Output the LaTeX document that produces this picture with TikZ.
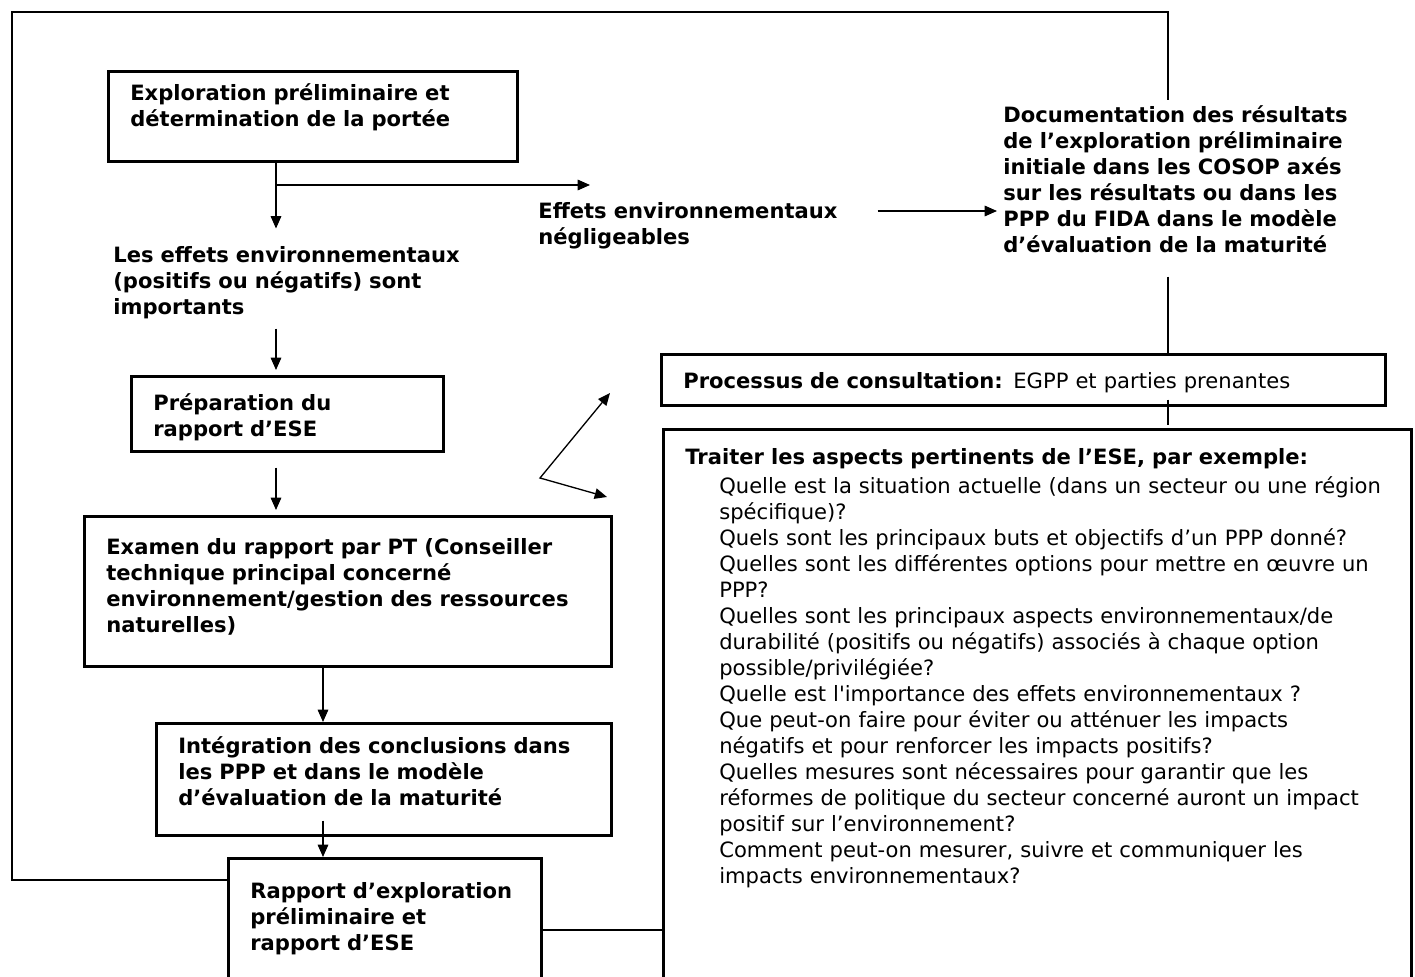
\documentclass[tikz,border=0pt]{standalone}
\usepackage{fontspec}
\setmainfont{DejaVu Sans}
\usetikzlibrary{arrows.meta, positioning}
\def\ind{\hspace*{0.68cm}}
\def\bfs{\fontsize{12}{14.8}\selectfont\bfseries}
\def\mds{\fontsize{12}{14.8}\selectfont\mdseries}
\tikzset{
  stage/.style={draw, line width=1.5pt, anchor=north west, align=left, inner xsep=0.44cm, inner ysep=0pt, font=\bfs},
  note/.style={anchor=north west, align=left, inner sep=0pt, text height=0.28cm, font=\bfs},
  flow/.style={line width=0.75pt, ->},
  link/.style={line width=0.75pt},
}
\begin{document}
\begin{tikzpicture}[x=0.02cm, y=-0.02cm, >={Triangle[length=7pt,width=6pt]}]
\useasboundingbox (0,0) rectangle (1415,976);
\coordinate (c1) at (276,0);
\coordinate (c2) at (323,0);
\coordinate (c3) at (1168,0);
\node[stage, text width=7.30cm, text height=0.59cm, text depth=1.21cm] (explo) at (107,70) {Exploration préliminaire et\\ détermination de la portée};
\node[note, text width=8cm] (sig) at (113,248.5) {Les effets environnementaux\\ (positifs ou négatifs) sont\\ importants};
\node[note, text width=6.4cm] (neg) at (538,204.5) {Effets environnementaux\\ négligeables};
\node[note, text width=8cm] (doc) at (1003,108.5) {Documentation des résultats\\ de l’exploration préliminaire\\ initiale dans les COSOP axés\\ sur les résultats ou dans les\\ PPP du FIDA dans le modèle\\ d’évaluation de la maturité};
\node[stage, text width=5.36cm, text height=0.69cm, text depth=0.81cm] (prep) at (130,375) {Préparation du\\ rapport d’ESE};
\node[stage, text width=9.66cm, text height=0.77cm, text depth=2.23cm] (exam) at (83,515) {Examen du rapport par PT (Conseiller\\ technique principal concerné\\ environnement/gestion des ressources\\ naturelles)};
\node[stage, text width=8.22cm, text height=0.61cm, text depth=1.63cm] (integ) at (155,722) {Intégration des conclusions dans\\ les PPP et dans le modèle\\ d’évaluation de la maturité};
\node[stage, text width=5.38cm, text height=0.81cm, text depth=2.2cm] (rapport) at (227,857) {Rapport d’exploration\\ préliminaire et\\ rapport d’ESE};
\node[stage, text width=13.60cm, text height=0.69cm, text depth=0.33cm] (consult) at (660,353) {Processus de consultation: {\mds EGPP et parties prenantes}};
\node[stage, text width=14.08cm, text height=0.71cm, text depth=12cm] (aspects) at (662,428) {Traiter les aspects pertinents de l’ESE, par exemple:\\[0.06cm]
\mds\ind Quelle est la situation actuelle (dans un secteur ou une région\\
\ind spécifique)?\\
\ind Quels sont les principaux buts et objectifs d’un PPP donné?\\
\ind Quelles sont les différentes options pour mettre en œuvre un\\
\ind PPP?\\
\ind Quelles sont les principaux aspects environnementaux/de\\
\ind durabilité (positifs ou négatifs) associés à chaque option\\
\ind possible/privilégiée?\\
\ind Quelle est l\textquotesingle importance des effets environnementaux ?\\
\ind Que peut-on faire pour éviter ou atténuer les impacts\\
\ind négatifs et pour renforcer les impacts positifs?\\
\ind Quelles mesures sont nécessaires pour garantir que les\\
\ind réformes de politique du secteur concerné auront un impact\\
\ind positif sur l’environnement?\\
\ind Comment peut-on mesurer, suivre et communiquer les\\
\ind impacts environnementaux?};
% split below the first box
\coordinate (split) at (276,185);
\coordinate (negtip) at (590,185);
\draw[link] (explo.south -| c1) -- (split);
\draw[flow] (split) -- (negtip);
\draw[flow, shorten >=0.4cm] (split) -- (sig.north -| c1);
\draw[flow, shorten <=0.18cm, shorten >=0.1cm] (sig.south -| c1) -- (prep.north -| c1);
\draw[flow, shorten <=0.3cm, shorten >=0.1cm] (prep.south -| c1) -- (exam.north -| c1);
\draw[flow] (exam.south -| c2) -- (integ.north -| c2);
\draw[flow, shorten <=-0.32cm] (integ.south -| c2) -- (rapport.north -| c2);
\coordinate (ay) at (0,211);
\draw[flow, shorten <=0.38cm, shorten >=0.12cm] (neg.east |- ay) -- (doc.west |- ay);
% outer loop back to the top
\coordinate (loop) at (0,880);
\coordinate (frame) at (12,12);
\draw[link, shorten >=0.16cm] (rapport.west |- loop) -| (frame) -| (doc.north -| c3);
\draw[link, shorten <=0.46cm] (doc.south -| c3) -- (consult.north -| c3);
\draw[link, shorten <=-0.14cm, shorten >=0.06cm] (consult.south -| c3) -- (aspects.north -| c3);
\coordinate (mid) at (0,930);
\draw[link] (rapport.east |- mid) -- (aspects.west |- mid);
% fork towards consultation and aspects
\coordinate (fork) at (540,478);
\coordinate (tipA) at (610,393);
\coordinate (tipB) at (607,497);
\draw[line width=0.75pt, <->] (tipA) -- (fork) -- (tipB);
\end{tikzpicture}
\end{document}
